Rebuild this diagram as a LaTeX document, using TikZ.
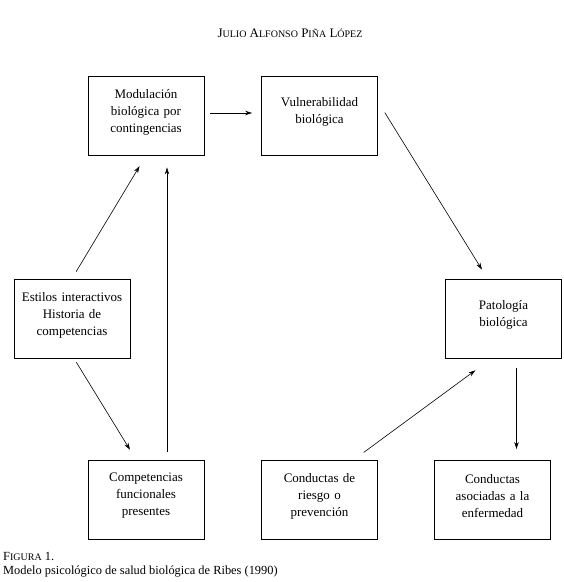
\documentclass[tikz,border=0pt]{standalone}
\usepackage{fontspec}
\setmainfont{Liberation Serif}
\usetikzlibrary{arrows.meta}

\newcommand\pcap[1]{{\fontsize{10}{12}\selectfont #1}}
\newcommand\bajoespacio{\par\vspace*{7pt}}

\begin{document}
\begin{tikzpicture}[x=1pt, y=-1pt,
        caja/.style={draw, line width=0.9pt, minimum width=116pt, minimum height=79pt,
            text width=112pt, align=center, inner sep=0pt, font=\fontsize{13}{17}\selectfont,
            execute at end node=\bajoespacio},
        flecha/.style={-{Stealth[length=7pt, width=4.5pt]}, line width=0.6pt}]
        \useasboundingbox (0,0) rectangle (564,582);

        \node[font=\fontsize{13}{15}\selectfont] (autor) at (290,33) {J\pcap{ULIO} A\pcap{LFONSO} P\pcap{IÑA} L\pcap{ÓPEZ}};

        \node[caja] (mod) at (146,115.5) {Modulación\\ biológica por\\ contingencias};
        \node[caja] (vul) at (319.5,115.5) {Vulnerabilidad\\ biológica};
        \node[caja] (est) at (72,318.5) {Estilos interactivos\\ Historia de\\ competencias};
        \node[caja] (pat) at (503.5,318.5) {Patología\\ biológica};
        \node[caja] (comp) at (146,499.5) {Competencias\\ funcionales\\ presentes};
        \node[caja] (rie) at (319.5,499.5) {Conductas de\\ riesgo o\\ prevención};
        \node[caja] (aso) at (492.5,499.5) {Conductas\\ asociadas a la\\ enfermedad};

        \draw[flecha, shorten <=6pt, shorten >=9pt] ([yshift=2.5pt]mod.east) -- ([yshift=2.5pt]vul.west);
        \draw[flecha, shorten <=13pt, shorten >=10.5pt] ([yshift=14pt]vul.east) -- ([xshift=-16pt]pat.north);
        \draw[flecha, shorten <=8pt, shorten >=12.5pt] (est.north) -- (mod.south);
        \draw[flecha, shorten <=4.5pt, shorten >=11.5pt] ([xshift=2pt]est.south) -- ([xshift=-10pt]comp.north);
        \draw[flecha, shorten <=8pt, shorten >=12pt] ([xshift=21pt]comp.north) -- ([xshift=21pt]mod.south);
        \draw[flecha, shorten <=12pt, shorten >=20pt] ([xshift=34.5pt]rie.north) -- ([xshift=-12pt]pat.south);
        \draw[flecha, shorten <=10pt, shorten >=10.5pt] ([xshift=13pt]pat.south) -- ([xshift=24pt]aso.north);

        \node[anchor=west, inner sep=0pt, font=\fontsize{12.4}{15}\selectfont] (fig) at (3,556) {F\pcap{IGURA} 1.};
        \node[anchor=west, inner sep=0pt, font=\fontsize{12.4}{15}\selectfont] (pie) at (3,572) {Modelo psicológico de salud biológica de Ribes (1990)};
    \end{tikzpicture}
\end{document}
